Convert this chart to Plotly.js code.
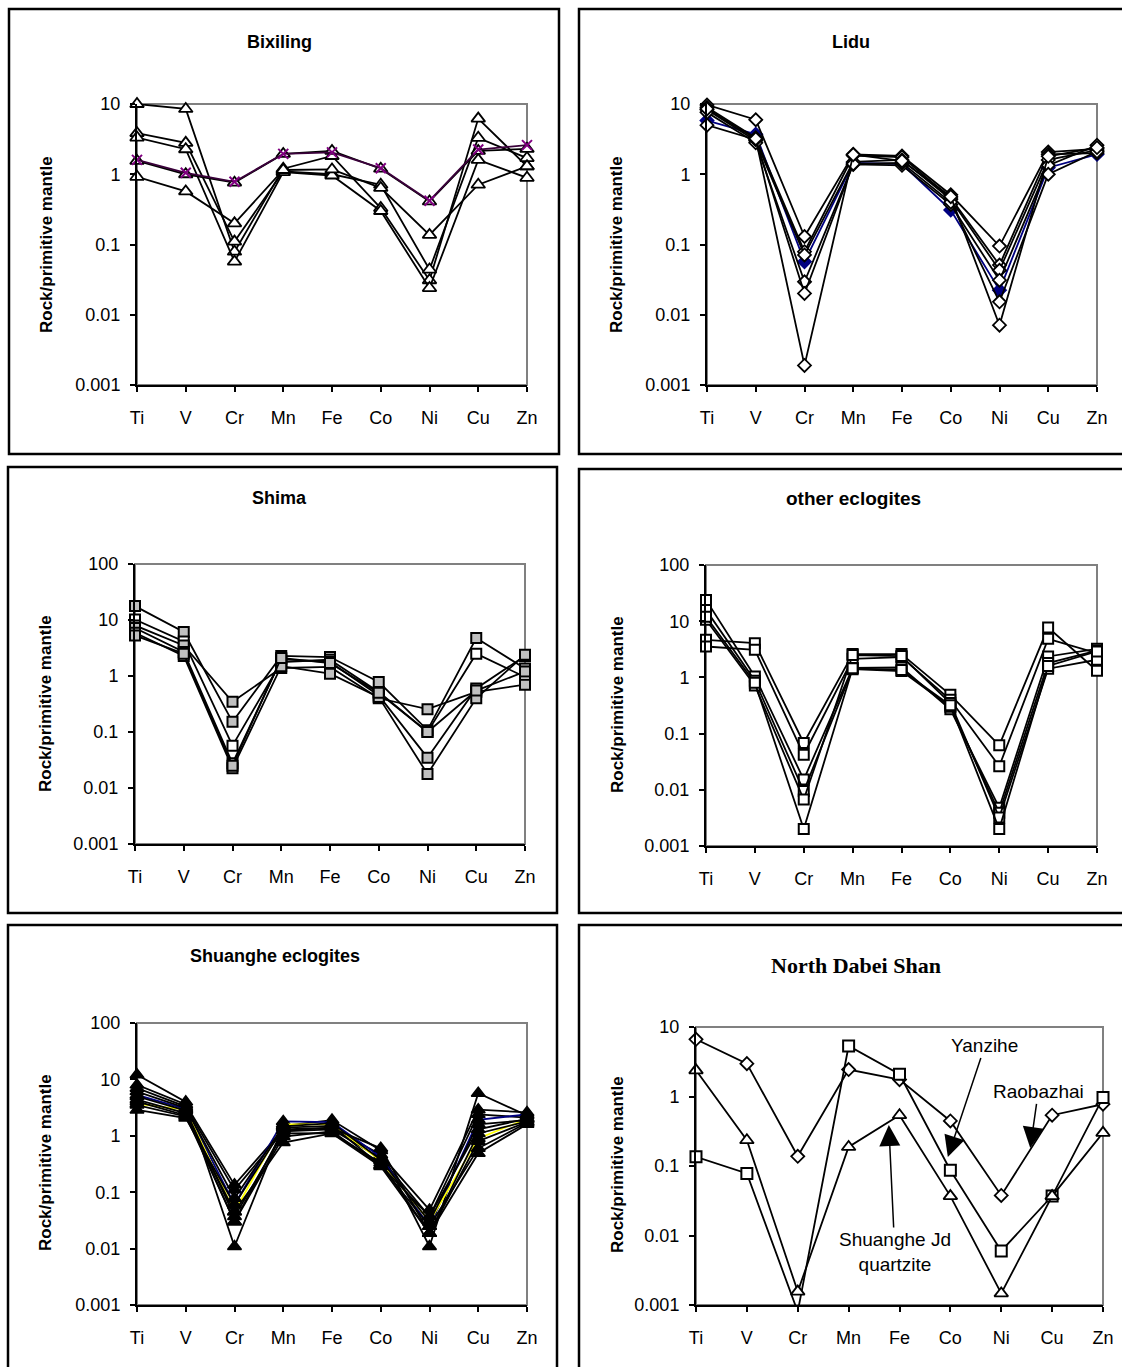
<!DOCTYPE html>
<html>
<head>
<meta charset="utf-8">
<script src="https://cdn.plot.ly/plotly-3.0.1.min.js"></script>
<style>
html, body { margin: 0; padding: 0; background: #fff; }
#chart { width: 1122px; height: 1367px; }
</style>
</head>
<body>
<div id="chart"></div>
<script>
// Element order along the x axis
const elements = ['Ti', 'V', 'Cr', 'Mn', 'Fe', 'Co', 'Ni', 'Cu', 'Zn'];

// Bixiling samples (rock / primitive mantle)
const bixiling1 = [10, 8.5, 0.079, 1.2, 1.82, 0.33, 0.031, 6.2, 1.3];
const bixiling2 = [3.85, 2.8, 0.11, 1.1, 1.0, 0.71, 0.044, 3.3, 1.7];
const bixiling3 = [3.33, 2.27, 0.057, 1.07, 0.96, 0.30, 0.024, 1.6, 0.89];
const bixiling4 = [1.55, 1.0, 0.76, 1.95, 2.15, 1.2, 0.41, 2.15, 2.3];
const bixiling5 = [0.92, 0.57, 0.20, 1.15, 1.17, 0.64, 0.137, 0.71, 1.3];
const bixiling6 = [1.6, 1.05, 0.78, 1.95, 2.05, 1.22, 0.42, 2.25, 2.6];

// Lidu samples
const lidu1 = [9.7, 5.97, 0.13, 1.92, 1.82, 0.51, 0.095, 2.07, 2.3];
const lidu2 = [8.96, 3.3, 0.079, 1.85, 1.75, 0.46, 0.051, 1.92, 2.0];
const lidu3 = [8.3, 3.0, 0.071, 1.5, 1.6, 0.44, 0.043, 1.6, 2.2];
const lidu4 = [5.8, 3.7, 0.057, 1.45, 1.4, 0.31, 0.0224, 1.24, 1.92];
const lidu5 = [7.6, 2.8, 0.0295, 1.38, 1.34, 0.37, 0.031, 1.34, 2.59];
const lidu6 = [5.0, 3.1, 0.0201, 1.4, 1.45, 0.40, 0.0153, 1.0, 2.1];
const lidu7 = [8.5, 3.2, 0.0019, 1.9, 1.55, 0.48, 0.0071, 1.8, 2.4];

// Shima samples
const shima1 = [17.7, 6.1, 0.152, 2.28, 2.18, 0.78, 0.108, 4.75, 1.36];
const shima2 = [10.2, 4.15, 0.057, 1.78, 1.95, 0.52, 0.1, 2.5, 0.96];
const shima3 = [8.0, 3.5, 0.346, 1.39, 1.45, 0.40, 0.256, 0.52, 0.70];
const shima4 = [7.2, 2.68, 0.0276, 2.0, 1.78, 0.45, 0.0348, 0.6, 2.28];
const shima5 = [5.9, 2.28, 0.0225, 1.5, 1.1, 0.42, 0.0178, 0.40, 2.4];
const shima6 = [5.3, 2.5, 0.025, 2.1, 1.7, 0.5, 0.1, 0.55, 1.2];

// Other eclogites
const other1 = [4.67, 4.06, 0.068, 2.6, 2.6, 0.49, 0.062, 7.7, 1.31];
const other2 = [3.55, 3.09, 0.042, 2.14, 2.3, 0.40, 0.0263, 4.85, 2.7];
const other3 = [23.9, 1.04, 0.0152, 1.47, 1.5, 0.27, 0.0048, 2.36, 3.23];
const other4 = [15.9, 0.87, 0.0095, 1.4, 1.3, 0.30, 0.0039, 1.8, 3.0];
const other5 = [10.6, 0.72, 0.0067, 2.5, 2.4, 0.35, 0.0032, 1.43, 2.06];
const other6 = [12.0, 0.80, 0.002, 1.45, 1.35, 0.32, 0.002, 1.6, 2.9];

// Shuanghe eclogites
const shuanghe1 = [12.1, 4.0, 0.0109, 1.5, 1.9, 0.55, 0.0109, 5.7, 2.3];
const shuanghe2 = [8.0, 3.6, 0.135, 1.3, 1.4, 0.46, 0.0485, 2.9, 2.6];
const shuanghe3 = [7.0, 3.3, 0.11, 1.2, 1.3, 0.40, 0.037, 2.4, 2.1];
const shuanghe4 = [6.1, 3.1, 0.078, 1.47, 1.68, 0.375, 0.030, 1.6, 1.9];
const shuanghe5 = [5.3, 3.0, 0.06, 1.8, 1.75, 0.42, 0.025, 1.92, 2.4];
const shuanghe6 = [3.7, 2.9, 0.045, 1.6, 1.6, 0.36, 0.03, 0.9, 2.0];
const shuanghe7 = [5.0, 2.8, 0.037, 1.1, 1.11, 0.33, 0.0187, 1.1, 1.8];
const shuanghe8 = [4.4, 2.5, 0.030, 0.97, 1.2, 0.30, 0.0248, 0.6, 1.7];
const shuanghe9 = [3.5, 2.2, 0.045, 0.76, 1.1, 0.286, 0.0187, 0.49, 1.6];
const shuanghe10 = [2.88, 2.06, 0.06, 1.4, 1.5, 0.30, 0.037, 1.3, 2.0];
const shuanghe11 = [4.06, 2.3, 0.03, 1.25, 1.37, 0.6, 0.0187, 0.8, 1.75];

// North Dabei Shan
const raobazhai = [6.65, 2.97, 0.138, 2.44, 1.75, 0.445, 0.0377, 0.538, 0.774];
const yanzihe = [0.1355, 0.078, 0.0008, 5.33, 2.09, 0.087, 0.006, 0.0369, 0.964];
const shuangheJd = [2.38, 0.235, 0.00156, 0.188, 0.538, 0.0369, 0.00147, 0.0369, 0.30];

const W = 1122, H = 1367;
const px = x => x / W;
const py = y => 1 - y / H;

// marker styles
const triOpen = { symbol: 'triangle-up', size: 12, color: '#fff', line: { color: '#000', width: 1.8 } };
const triFilled = { symbol: 'triangle-up', size: 12, color: '#000', line: { color: '#000', width: 1.5 } };
const diaOpen = { symbol: 'diamond', size: 10, color: '#fff', line: { color: '#000', width: 1.8 } };
const diaNavy = { symbol: 'diamond', size: 10, color: '#000080', line: { color: '#000080', width: 1.8 } };
const sqGray = { symbol: 'square', size: 10, color: '#c0c0c0', line: { color: '#000', width: 2 } };
const sqOpen = { symbol: 'square', size: 10, color: '#fff', line: { color: '#000', width: 2 } };
const xPurple = { symbol: 'x-thin-open', size: 10, color: '#800080', line: { color: '#800080', width: 2 } };

const panels = [
  { title: '<b>Bixiling</b>', titlePos: [279, 42], box: [137, 104, 527, 385], frame: [9, 9, 559, 454], yRange: [-3, 1], ytPos: [47, 245],
    series: [
      { y: bixiling1, m: triOpen }, { y: bixiling2, m: triOpen }, { y: bixiling3, m: triOpen },
      { y: bixiling5, m: triOpen }, { y: bixiling4, m: triOpen },
      { y: bixiling6, m: xPurple, lc: '#3a003a' }
    ] },
  { title: '<b>Lidu</b>', titlePos: [851, 42], box: [707, 104, 1097, 385], frame: [579, 9, 1135, 454], yRange: [-3, 1], ytPos: [617, 245],
    series: [
      { y: lidu4, m: diaNavy, lc: '#000080' },
      { y: lidu1, m: diaOpen }, { y: lidu2, m: diaOpen }, { y: lidu3, m: diaOpen },
      { y: lidu5, m: diaOpen }, { y: lidu6, m: diaOpen }, { y: lidu7, m: diaOpen }
    ] },
  { title: '<b>Shima</b>', titlePos: [279, 498], box: [135, 564, 525, 844], frame: [8, 467, 557, 913], yRange: [-3, 2], ytPos: [45, 704],
    series: [
      { y: shima1, m: sqGray }, { y: shima2, m: sqOpen }, { y: shima3, m: sqGray },
      { y: shima4, m: sqGray }, { y: shima5, m: sqGray }, { y: shima6, m: sqGray }
    ] },
  { title: '<b>other eclogites</b>', titleSize: 19, titlePos: [853, 499], box: [706, 565, 1097, 846], frame: [579, 469, 1135, 913], yRange: [-3, 2], ytPos: [617, 705],
    series: [
      { y: other1, m: sqOpen }, { y: other2, m: sqOpen }, { y: other3, m: sqOpen },
      { y: other4, m: sqOpen }, { y: other5, m: sqOpen }, { y: other6, m: sqOpen }
    ] },
  { title: '<b>Shuanghe eclogites</b>', titlePos: [275, 956], box: [137, 1023, 527, 1305], frame: [8, 925, 557, 1385], yRange: [-3, 2], ytPos: [45, 1163],
    series: [
      { y: shuanghe1, m: triFilled }, { y: shuanghe2, m: triFilled }, { y: shuanghe3, m: triFilled },
      { y: shuanghe5, m: triFilled, lc: '#000080' }, { y: shuanghe6, m: triFilled, lc: '#ffff00' },
      { y: shuanghe4, m: triFilled }, { y: shuanghe7, m: triFilled }, { y: shuanghe8, m: triFilled },
      { y: shuanghe9, m: triFilled }, { y: shuanghe10, m: triFilled }, { y: shuanghe11, m: triFilled }
    ] },
  { title: '<b>North Dabei Shan</b>', titleFont: { family: '"Liberation Serif", "Times New Roman", serif', size: 22 },
    titlePos: [856, 965], box: [696, 1027, 1103, 1305], frame: [579, 925, 1135, 1385], yRange: [-3, 1], ytPos: [617, 1165],
    series: [
      { y: raobazhai, m: diaOpen }, { y: yanzihe, m: { ...sqOpen, size: 11 } }, { y: shuangheJd, m: triOpen }
    ] }
];

const data = [];
const sansFont = '"Liberation Sans", Arial, sans-serif';
const layout = {
  width: W, height: H,
  margin: { l: 0, r: 0, t: 0, b: 0 },
  showlegend: false,
  paper_bgcolor: '#fff', plot_bgcolor: 'rgba(0,0,0,0)',
  font: { family: sansFont, color: '#000' },
  shapes: [], annotations: []
};

panels.forEach((p, k) => {
  const n = k + 1;
  const sfx = n > 1 ? String(n) : '';
  const xr = 'x' + sfx, yr = 'y' + sfx;

  const decades = [];
  for (let e = p.yRange[0]; e <= p.yRange[1]; e++) decades.push(e);

  layout['xaxis' + sfx] = {
    domain: [px(p.box[0]), px(p.box[2])], anchor: yr,
    type: 'category', range: [0, elements.length - 1],
    showgrid: false, zeroline: false,
    showline: true, linecolor: '#000', linewidth: 2,
    ticks: 'outside', ticklen: 5, tickwidth: 2, tickcolor: '#000',
    tickfont: { size: 18, family: sansFont }, ticklabelstandoff: 10,
    fixedrange: true
  };
  layout['yaxis' + sfx] = {
    domain: [py(p.box[3]), py(p.box[1])], anchor: xr,
    type: 'log', range: p.yRange,
    tickmode: 'array',
    tickvals: decades.map(e => Math.pow(10, e)),
    ticktext: decades.map(e => e < 0 ? Math.pow(10, e).toFixed(-e) : String(Math.pow(10, e))),
    showgrid: false, zeroline: false,
    showline: true, linecolor: '#000', linewidth: 2,
    ticks: 'outside', ticklen: 5, tickwidth: 2, tickcolor: '#000',
    tickfont: { size: 18, family: sansFont }, ticklabelstandoff: 6,
    fixedrange: true
  };

  // grey plot-area border (top and right sides stay visible)
  layout.shapes.push({
    type: 'rect', xref: xr + ' domain', yref: yr + ' domain',
    x0: 0, x1: 1, y0: 0, y1: 1,
    line: { color: '#808080', width: 2 }, layer: 'below'
  });
  // panel frame
  layout.shapes.push({
    type: 'rect', xref: 'paper', yref: 'paper',
    x0: px(p.frame[0]), x1: px(p.frame[2]), y0: py(p.frame[3]), y1: py(p.frame[1]),
    line: { color: '#000', width: 2.5 }, layer: 'above'
  });

  layout.annotations.push({
    text: p.title, xref: 'paper', yref: 'paper',
    x: px(p.titlePos[0]), y: py(p.titlePos[1]), xanchor: 'center', yanchor: 'middle',
    showarrow: false, font: p.titleFont || { family: sansFont, size: p.titleSize || 18 }
  });
  layout.annotations.push({
    text: '<b>Rock/primitive mantle</b>', xref: 'paper', yref: 'paper',
    x: px(p.ytPos[0]), y: py(p.ytPos[1]), xanchor: 'center', yanchor: 'middle',
    textangle: -90, showarrow: false, font: { family: sansFont, size: 17 }
  });

  const lo = Math.pow(10, p.yRange[0]);
  p.series.forEach(s => {
    data.push({
      type: 'scatter', mode: 'lines+markers',
      x: elements, y: s.y,
      xaxis: xr, yaxis: yr,
      cliponaxis: false,
      line: { color: s.lc || '#000', width: 1.8 },
      marker: { ...s.m, opacity: s.y.map(v => v < lo ? 0 : 1) },
      hoverinfo: 'x+y'
    });
  });
});

// Locality labels with arrows in the North Dabei Shan panel
const arrowStyle = { showarrow: true, arrowhead: 2, arrowsize: 2.8, arrowwidth: 1.5, arrowcolor: '#000' };
const labelFont = { family: sansFont, size: 19, color: '#000' };
layout.annotations.push(
  { text: 'Yanzihe', xref: 'x6', yref: 'y6', x: 4.95, y: -0.87, ax: 37, ay: -111, font: labelFont, ...arrowStyle },
  { text: 'Raobazhai', xref: 'x6', yref: 'y6', x: 6.57, y: -0.74, ax: 8, ay: -56, font: labelFont, ...arrowStyle },
  { text: 'Shuanghe Jd<br>quartzite', xref: 'x6', yref: 'y6', x: 3.79, y: -0.41, ax: 6, ay: 127, font: labelFont, ...arrowStyle }
);

Plotly.newPlot('chart', data, layout, { staticPlot: true, displayModeBar: false });
</script>
</body>
</html>
